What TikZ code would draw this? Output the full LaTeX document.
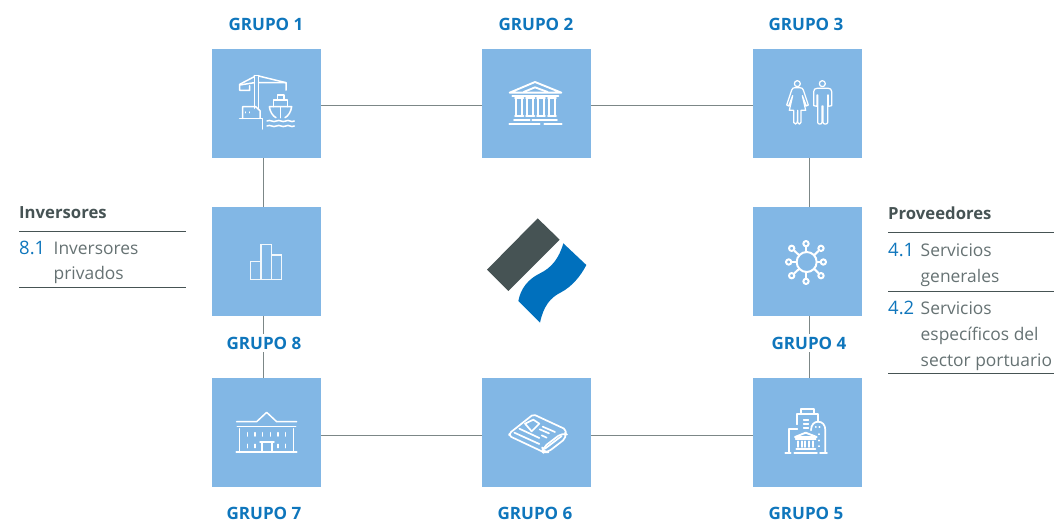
\documentclass[tikz,border=0pt]{standalone}
\usepackage{fontspec}
\setmainfont{Open Sans}
\definecolor{sq}{HTML}{82B7E5}
\definecolor{grp}{HTML}{0F76BC}
\definecolor{dark}{HTML}{465354}
\definecolor{body}{HTML}{667273}
\definecolor{conn}{HTML}{7C8787}
\definecolor{logob}{HTML}{0070BD}
\tikzset{
  square/.style={fill=sq,draw=none,minimum size=109pt,inner sep=0pt,outer sep=0pt},
  glabel/.style={text=grp,font=\fontsize{17}{17}\selectfont\bfseries,inner sep=1pt,anchor=center},
  gfill/.style={glabel,fill=white,inner ysep=3pt},
  conline/.style={draw=conn,line width=1.25pt},
  rule/.style={draw=dark,line width=.9pt},
  head/.style={text=dark,font=\fontsize{16.7}{16.7}\selectfont\bfseries,inner sep=0pt,anchor=base west},
  num/.style={text=grp,font=\fontsize{18.5}{18.5}\selectfont,inner sep=0pt,anchor=base west},
  item/.style={text=body,font=\fontsize{17.4}{17.4}\selectfont,inner sep=0pt,anchor=base west},
  ic/.style={draw=white,line width=1.5pt,line join=round,line cap=round},
  zoomat/.style 2 args={shift={(#1,#2)},x=.33333pt,y=-.33333pt}
}
\begin{document}
\begin{tikzpicture}[x=1pt,y=-1pt]
\useasboundingbox (0,0) rectangle (1060,523);
% squares
\node[square] (g1) at (266.5,103.5) {};
\node[square] (g2) at (536.5,103.5) {};
\node[square] (g3) at (807.5,103.5) {};
\node[square] (g8) at (266.5,261.5) {};
\node[square] (g4) at (807.5,261.5) {};
\node[square] (g7) at (266.5,432.5) {};
\node[square] (g6) at (536.5,432.5) {};
\node[square] (g5) at (807.5,432.5) {};
% connectors
\draw[conline] ([yshift=-2pt]g1.east) -- ([yshift=-2pt]g2.west);
\draw[conline] ([yshift=-2pt]g2.east) -- ([yshift=-2pt]g3.west);
\draw[conline] ([yshift=-3pt]g7.east) -- ([yshift=-3pt]g6.west);
\draw[conline] ([yshift=-3pt]g6.east) -- ([yshift=-3pt]g5.west);
\draw[conline] ([xshift=-3pt]g1.south) -- ([xshift=-3pt]g8.north);
\draw[conline] ([xshift=-3pt]g8.south) -- ([xshift=-3pt]g7.north);
\draw[conline] ([xshift=2pt]g3.south) -- ([xshift=2pt]g4.north);
\draw[conline] ([xshift=2pt]g4.south) -- ([xshift=2pt]g5.north);
% labels
\node[glabel] (l1) at (266,24) {GRUPO 1};
\node[glabel] (l2) at (536,24) {GRUPO 2};
\node[glabel] (l3) at (806,24) {GRUPO 3};
\node[gfill] (l8) at (264,343) {GRUPO 8};
\node[gfill] (l4) at (809,343) {GRUPO 4};
\node[glabel] (l7) at (264,513) {GRUPO 7};
\node[glabel] (l6) at (535,513) {GRUPO 6};
\node[glabel] (l5) at (806,513) {GRUPO 5};
% icon 1 crane
\begin{scope}[zoomat={205}{40},ic]
\draw (148,107)--(148,205) (161,107)--(161,205);
\draw (148,107)--(161,107);
\draw (148,110)--(104,133)--(104,151)--(134,151)--(134,137);
\draw (104,135)--(148,128) (161,128)--(243,128)--(243,150);
\draw (161,108)--(243,128);
\draw (104,235)--(173,235)--(173,267);
\draw (113,235)--(113,200)--(152,200)--(165,212)--(165,235);
\draw (122,216)--(122,218) (134,216)--(134,218);
\draw (193,200)--(260,200) .. controls (258,215) and (250,228) .. (240,233) (193,200) .. controls (195,215) and (203,228) .. (213,233);
\draw (206,200)--(206,180)--(248,180)--(248,200) (218,180)--(218,165)--(237,165)--(237,180) (227,200)--(227,233);
\draw (186,243) .. controls (196,237) and (204,249) .. (214,243) .. controls (224,237) and (232,249) .. (242,243) .. controls (252,237) and (258,249) .. (268,243);
\draw (186,258) .. controls (196,252) and (204,264) .. (214,258) .. controls (224,252) and (232,264) .. (242,258) .. controls (252,252) and (258,264) .. (268,258);
\end{scope}
% icon 2 bank
\begin{scope}[zoomat={475}{45},ic,line width=1.9pt]
\draw (104,143)--(180,111)--(259,143)--cycle;
\draw (146,141)--(180,127)--(218,141);
\draw (112,152)--(250,152);
\foreach \a/\b in {120/145,153/178,186/210,219/243}{
  \draw (\a,160)--(\b,160) (\a,212)--(\b,212);
  \draw ({\a+4},160)--({\a+4},212) ({\b-4},160)--({\b-4},212);
}
\draw (117,224)--(164,224) (172,224)--(246,224) (103,237)--(194,237) (208,237)--(260,237);
\end{scope}
% icon 3 people
\begin{scope}[zoomat={745}{45},ic,line width=1.25pt]
\draw (157,116) circle[radius=9];
\draw (232,116) circle[radius=9];
\draw (125,180)--(140,135) .. controls (142,129) and (146,128) .. (150,128)--(164,128) .. controls (170,128) and (173,130) .. (175,135)--(190,180)--(184,183)--(172,152)--(182,196)--(168,196)--(168,232) .. controls (168,239) and (158,239) .. (158,232)--(158,196)--(157,232) .. controls (157,239) and (146,239) .. (146,232)--(146,196)--(133,196)--(143,152)--(131,183)--cycle;
\draw (206,140) .. controls (206,133) and (210,130) .. (216,130)--(250,130) .. controls (256,130) and (260,133) .. (260,140)--(260,182)--(250,184)--(250,150)--(248,150)--(248,232) .. controls (248,239) and (234,239) .. (234,232)--(234,183)--(231,183)--(231,232) .. controls (231,239) and (218,239) .. (218,232)--(218,150)--(216,150)--(216,184)--(206,182)--cycle;
\end{scope}
% icon 4 network
\begin{scope}[zoomat={745}{200},ic,line width=2pt]
\draw (185,186) circle[radius=30];
\foreach \x/\y/\a/\b in {183/131/183/156,228/145/207/166,235/186/215/186,228/227/207/206,183/244/183/216,140/227/163/206,131/186/155/186,140/145/163/166}{
  \draw (\x,\y) circle[radius=8];
  \draw (\a,\b)--({(\x+\a)/2+(\x-\a)/8},{(\y+\b)/2+(\y-\b)/8});
}
\end{scope}
% icon 5 buildings
\begin{scope}[zoomat={745}{372},ic,line width=1.7pt]
\draw (157,157)--(157,125)--(220,125)--(220,150);
\draw (168,125)--(168,110)--(208,110)--(208,125);
\draw (133,242)--(133,170)--(157,170);
\draw (198,175) .. controls (198,158) and (208,149) .. (219,149) .. controls (232,149) and (241,158) .. (241,175)--(241,242);
\draw (176,145)--(190,145) (176,156)--(190,156) (176,167)--(190,167);
\draw (212,165)--(213,165) (223,165)--(224,165) (223,205)--(223,206) (223,222)--(223,223) (223,186)--(223,187);
\draw[line width=1.9pt] (150,195)--(182,182)--(215,195)--cycle;
\draw (152,202)--(212,202);
\foreach \x in {160,170,181,192,203} \draw (\x,208)--(\x,225);
\draw[line width=1.9pt] (154,232)--(211,232) (148,242)--(216,242) (121,242)--(137,242) (225,242)--(246,242);
\end{scope}
% icon 6 newspaper
\begin{scope}[zoomat={475}{372},ic,line width=1.7pt]
\draw[rounded corners=2pt] (207,241)--(103,192)--(103,184)--(175,127)--(272,172)--(272,186);
\draw[rounded corners=5pt] (272,186)--(276,196)--(218,241)--(205,241)--(202,228)--(262,182)--(272,186);
\draw (133,170)--(193,198) (118,182)--(193,216);
\draw (150,155)--(175,143)--(193,155)--(170,178)--cycle;
\draw (194,172)--(222,184) (203,164)--(240,180) (200,190)--(215,197);
\draw (210,230)--(260,192);
\end{scope}
% icon 7 palace
\begin{scope}[zoomat={205}{372},ic]
\draw (95,149)--(155,149)--(185,121)--(215,149)--(275,149);
\draw (97,164)--(272,164);
\draw (103,170)--(103,241) (266,170)--(266,241);
\draw[line width=1.8pt] (94,241)--(275,241);
\foreach \x in {127,150,173,196,219,242} \draw (\x,182)--(\x,192);
\foreach \x in {127,150,219,242} \draw (\x,217)--(\x,227);
\draw (165,210)--(207,210) (171,212)--(171,240) (201,212)--(201,240);
\end{scope}
% icon 8 bars
\begin{scope}[zoomat={205}{200},ic,line width=1.3pt,line cap=butt,line join=miter,draw=white!90!sq]
\draw (137,184) rectangle (168,238);
\draw (168,134) rectangle (199,238);
\draw (199,165) rectangle (230,238);
\end{scope}
% logo
\begin{scope}[zoomat={475}{205}]
\fill[dark] (188,40)--(254,104)--(100,258)--(36,194)--cycle;
\fill[logob] (265,115)--(334,180) .. controls (316,215) and (290,245) .. (258,262) .. controls (225,278) and (205,305) .. (195,353)--(130,288) .. controls (137,250) and (160,222) .. (195,205) .. controls (230,188) and (252,160) .. (265,115)--cycle;
\end{scope}
% right panel
\node[head] (hp) at (888,219.5) {Proveedores};
\coordinate (pa) at (888,232); \coordinate (pb) at (1054,232);
\coordinate (pc) at (888,291.5); \coordinate (pd) at (1054,291.5);
\coordinate (pe) at (888,373.5); \coordinate (pf) at (1054,373.5);
\draw[rule] (pa)--(pb); \draw[rule] (pc)--(pd); \draw[rule] (pe)--(pf);
\node[num] (n41) at (888,256) {4.1};
\node[item] (t41a) at (920.5,256) {Servicios};
\node[item] (t41b) at (920.5,282.5) {generales};
\node[num] (n42) at (888,314) {4.2};
\node[item] (t42a) at (920.5,314) {Servicios};
\node[item] (t42b) at (920.5,340) {específicos del};
\node[item] (t42c) at (920.5,366) {sector portuario};
% left panel
\node[head] (hi) at (19,218.5) {Inversores};
\coordinate (ia) at (19,231.5); \coordinate (ib) at (186,231.5);
\coordinate (ic1) at (19,287.5); \coordinate (id) at (186,287.5);
\draw[rule] (ia)--(ib); \draw[rule] (ic1)--(id);
\node[num] (n81) at (19,254) {8.1};
\node[item] (t81a) at (53.5,254) {Inversores};
\node[item] (t81b) at (53.5,279) {privados};
\end{tikzpicture}
\end{document}
